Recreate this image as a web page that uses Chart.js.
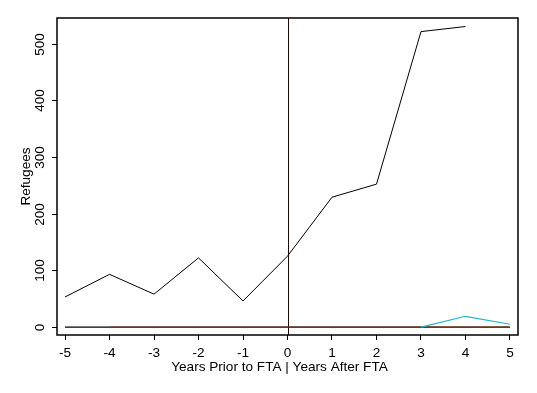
<!DOCTYPE html>
<html>
<head>
<meta charset="utf-8">
<script src="https://cdn.jsdelivr.net/npm/chart.js@4/dist/chart.umd.min.js"></script>
<style>
  html, body { margin: 0; padding: 0; background: #fff; }
  #wrap { width: 537px; height: 393px; }
</style>
</head>
<body>
<div id="wrap"><canvas id="myChart" width="537" height="393"></canvas></div>
<script>
// Data
let years = [-5, -4, -3, -2, -1, 0, 1, 2, 3, 4, 5];
let refugeesMain = [53, 93, 58, 122, 46, 125, 229, 252, 521, 530, null];
let refugeesZeroBlack = [0, 0, 0, 0, 0, 0, 0, 0, 0, 0, 0];
let refugeesZeroBrown = [null, 0, 0, 0, 0, 0, 0, 0, 0, 0, 0];
let refugeesCyan = [null, null, null, null, null, null, null, null, 0, 19, 5];
let xTicks = [-5, -4, -3, -2, -1, 0, 1, 2, 3, 4, 5];
let yTicks = [0, 100, 200, 300, 400, 500];

function toPoints(vals) {
  return years.map((x, i) => ({ x: x, y: vals[i] }));
}

let FONT = "'Liberation Sans', Arial, sans-serif";
let FSIZE = 13.6;

// box, line at year 0, rotated y labels and axis titles
let extras = {
  id: "extras",
  beforeDatasetsDraw(chart) {
    let c = chart.ctx, a = chart.chartArea;
    let xs = chart.scales.x;
    let x0 = Math.round(xs.getPixelForValue(0)) + 0.5;
    c.save();
    c.strokeStyle = "#1a0a00";
    c.lineWidth = 1;
    c.beginPath();
    c.moveTo(x0, a.top);
    c.lineTo(x0, a.bottom);
    c.stroke();
    c.restore();
  },
  afterDraw(chart) {
    let c = chart.ctx, a = chart.chartArea;
    let ys = chart.scales.y;
    c.save();
    c.strokeStyle = "#000";
    c.lineWidth = 1.5;
    c.strokeRect(a.left, a.top, a.right - a.left, a.bottom - a.top);
    // y ticks
    c.lineWidth = 1;
    c.fillStyle = "#000";
    c.font = FSIZE + "px " + FONT;
    c.textAlign = "center";
    c.textBaseline = "middle";
    yTicks.forEach(v => {
      let y = Math.round(ys.getPixelForValue(v)) + 0.5;
      c.beginPath();
      c.moveTo(a.left - 5, y);
      c.lineTo(a.left, y);
      c.stroke();
      c.save();
      c.translate(a.left - 17, y);
      c.rotate(-Math.PI / 2);
      c.fillText(String(v), 0, 0);
      c.restore();
    });
    // y title
    c.save();
    c.translate(26, (a.top + a.bottom) / 2);
    c.rotate(-Math.PI / 2);
    c.fillText("Refugees", 0, 0);
    c.restore();
    // x title (sits a little left of centre in the original)
    c.fillText("Years Prior to FTA | Years After FTA", (a.left + a.right) / 2 - 8, a.bottom + 32);
    c.restore();
  }
};

let ctx = document.getElementById("myChart").getContext("2d");

// first dataset is drawn on top
let myChart = new Chart(ctx, {
  type: "line",
  data: {
    datasets: [
      { data: toPoints(refugeesMain), borderColor: "#000", borderWidth: 1 },
      { data: toPoints(refugeesCyan), borderColor: "#1fb5c4", borderWidth: 1.2 },
      { data: toPoints(refugeesZeroBrown), borderColor: "#7a3a10", borderWidth: 1.3 },
      { data: toPoints(refugeesZeroBlack), borderColor: "#000", borderWidth: 1.3 }
    ]
  },
  options: {
    responsive: false,
    animation: false,
    layout: { padding: { top: 18, right: 19, left: 0, bottom: 0 } },
    elements: {
      point: { radius: 0 },
      line: { tension: 0, fill: false }
    },
    plugins: {
      legend: { display: false },
      tooltip: { enabled: false }
    },
    scales: {
      x: {
        type: "linear",
        min: -5.18,
        max: 5.18,
        afterBuildTicks: s => { s.ticks = xTicks.map(v => ({ value: v })); },
        afterFit: s => { s.height = 58; },
        grid: {
          drawOnChartArea: false,
          drawTicks: true,
          tickLength: 5,
          tickColor: "#000"
        },
        border: { display: false },
        ticks: {
          color: "#000",
          font: { family: FONT, size: FSIZE },
          padding: 5,
          maxRotation: 0,
          autoSkip: false
        }
      },
      y: {
        type: "linear",
        min: -14,
        max: 545,
        afterFit: s => { s.width = 57; },
        grid: { display: false },
        border: { display: false },
        ticks: { display: false }
      }
    }
  },
  plugins: [extras]
});
</script>
</body>
</html>
